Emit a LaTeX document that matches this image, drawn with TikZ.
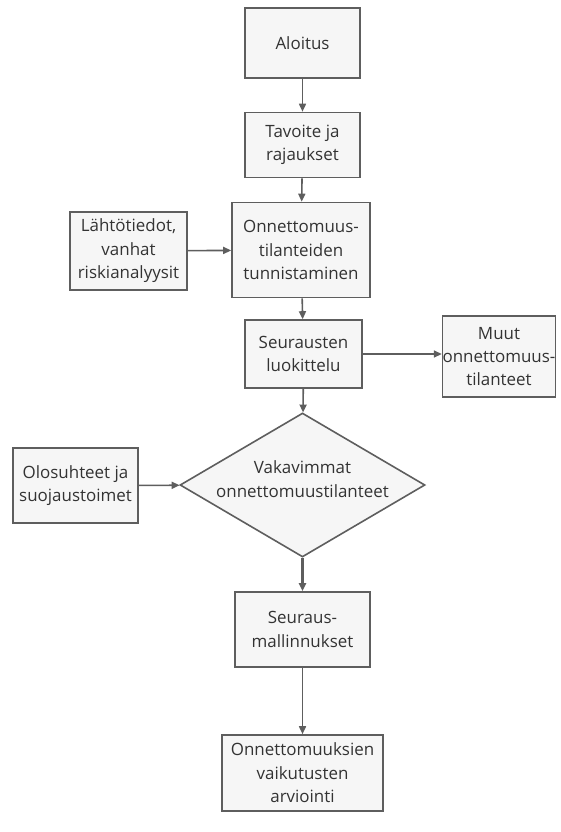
\documentclass[tikz,border=0pt]{standalone}
\usepackage{fontspec}
\setmainfont{Open Sans}
\usepackage{tikz}
\usetikzlibrary{shapes.geometric, arrows.meta, positioning}
\definecolor{boxline}{HTML}{5E5E5E}
\definecolor{boxfill}{HTML}{F6F6F6}
\definecolor{boxtext}{HTML}{333333}
\tikzset{
  flowtext/.style={
    align=center, text=boxtext,
    font=\fontsize{17}{23.5}\selectfont
  },
  flowbox/.style={
    flowtext, draw=boxline, line width=1.6bp,
    fill=boxfill, inner sep=0pt
  },
  decision/.style={
    diamond, draw=boxline, line width=1.6bp, fill=boxfill,
    inner sep=0pt, minimum width=245bp, minimum height=144bp
  },
  flowarrow/.style={-{Triangle[length=8bp, width=7bp]}, line width=1.6bp, color=boxline},
}
\begin{document}
\begin{tikzpicture}[x=1bp, y=1bp]
  \useasboundingbox (0,0) rectangle (561,-832);
  \node[flowbox, minimum width=115bp, minimum height=70bp] (start) at (302.5,-43) {Aloitus};
  \node[flowbox, minimum width=115bp, minimum height=65bp] (goal) at (302.5,-145) {Tavoite ja\\rajaukset};
  \node[flowbox, minimum width=138bp, minimum height=95bp] (ident) at (301,-250) {Onnettomuus-\\tilanteiden\\tunnistaminen};
  \node[flowbox, minimum width=117bp, minimum height=78bp] (input) at (128.5,-251) {Lähtötiedot,\\vanhat\\riskianalyysit};
  \node[flowbox, minimum width=117bp, minimum height=68bp] (classify) at (303.5,-354) {Seurausten\\luokittelu};
  \node[flowbox, minimum width=112bp, minimum height=81bp] (other) at (499,-356.5) {Muut\\onnettomuus-\\tilanteet};
  \node[decision, label={[flowtext, yshift=6bp]center:Vakavimmat\\onnettomuustilanteet}] (worst) at (302.5,-485) {};
  \node[flowbox, minimum width=125bp, minimum height=75bp] (cond) at (75.5,-485.5) {Olosuhteet ja\\suojaustoimet};
  \node[flowbox, minimum width=135bp, minimum height=75bp] (model) at (302.5,-629.5) {Seuraus-\\mallinnukset};
  \node[flowbox, minimum width=161bp, minimum height=76bp] (effect) at (302.5,-773) {Onnettomuuksien\\vaikutusten\\arviointi};
  \draw[flowarrow] (start) -- (goal);
  \draw[flowarrow] (goal) -- (ident);
  \draw[flowarrow] (input) -- (ident);
  \draw[flowarrow] (ident) -- (classify);
  \draw[flowarrow] (classify.east) -- (other.west |- classify.east);
  \draw[flowarrow] (classify) -- (worst);
  \draw[flowarrow] (cond) -- (worst);
  \draw[flowarrow, line width=2.6bp] (worst) -- (model);
  \draw[flowarrow] (model) -- (effect);
\end{tikzpicture}
\end{document}
